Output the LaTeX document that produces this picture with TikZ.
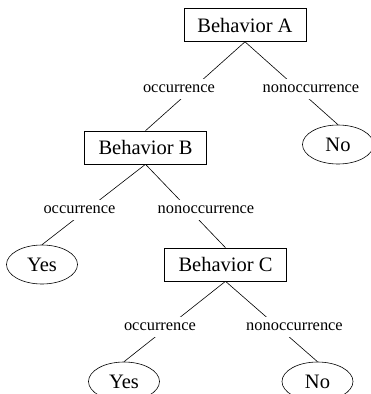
\documentclass[tikz,border=0pt]{standalone}
\usepackage{fontspec}
\setmainfont{Liberation Serif}
\usetikzlibrary{shapes.geometric}

\begin{document}
\begin{tikzpicture}[x=1pt, y=-1pt, line width=0.6pt,
  behavior/.style={rectangle, draw, inner sep=0pt, minimum width=122pt, minimum height=33pt, font=\fontsize{20.5}{24}\selectfont},
  outcome/.style={ellipse, draw, inner sep=0pt, minimum width=71pt, minimum height=39pt, font=\fontsize{20.5}{24}\selectfont},
  branch/.style={fill=white, inner xsep=2pt, inner ysep=0pt, minimum height=20pt, font=\fontsize{16.4}{18}\selectfont}]

\useasboundingbox (0,0) rectangle (371,394);

% Define decision nodes and outcomes
\node[behavior] (A) at (245,25) {Behavior A};
\node[behavior] (B) at (145.5,147.5) {Behavior B};
\node[behavior] (C) at (225.5,264.5) {Behavior C};
\node[outcome] (noA) at (338,144.5) {No};
\node[outcome] (yesB) at (42,264.5) {Yes};
\node[outcome] (yesC) at (124,381.5) {Yes};
\node[outcome] (noC) at (317.5,381.5) {No};

% Draw branches
\draw (A.south) -- (B.north);
\draw (A.south) -- (noA.north);
\draw (B.south) -- (yesB.north);
\draw (B.south) -- (C.north);
\draw (C.south) -- (yesC.north);
\draw (C.south) -- (noC.north);

% Branch labels on top of the lines
\node[branch] (occA) at (179,88.5) {occurrence};
\node[branch] (nonA) at (311,88.5) {nonoccurrence};
\node[branch] (occB) at (79.5,210) {occurrence};
\node[branch] (nonB) at (206,210) {nonoccurrence};
\node[branch] (occC) at (160,327) {occurrence};
\node[branch] (nonC) at (294.5,327) {nonoccurrence};

\end{tikzpicture}
\end{document}
